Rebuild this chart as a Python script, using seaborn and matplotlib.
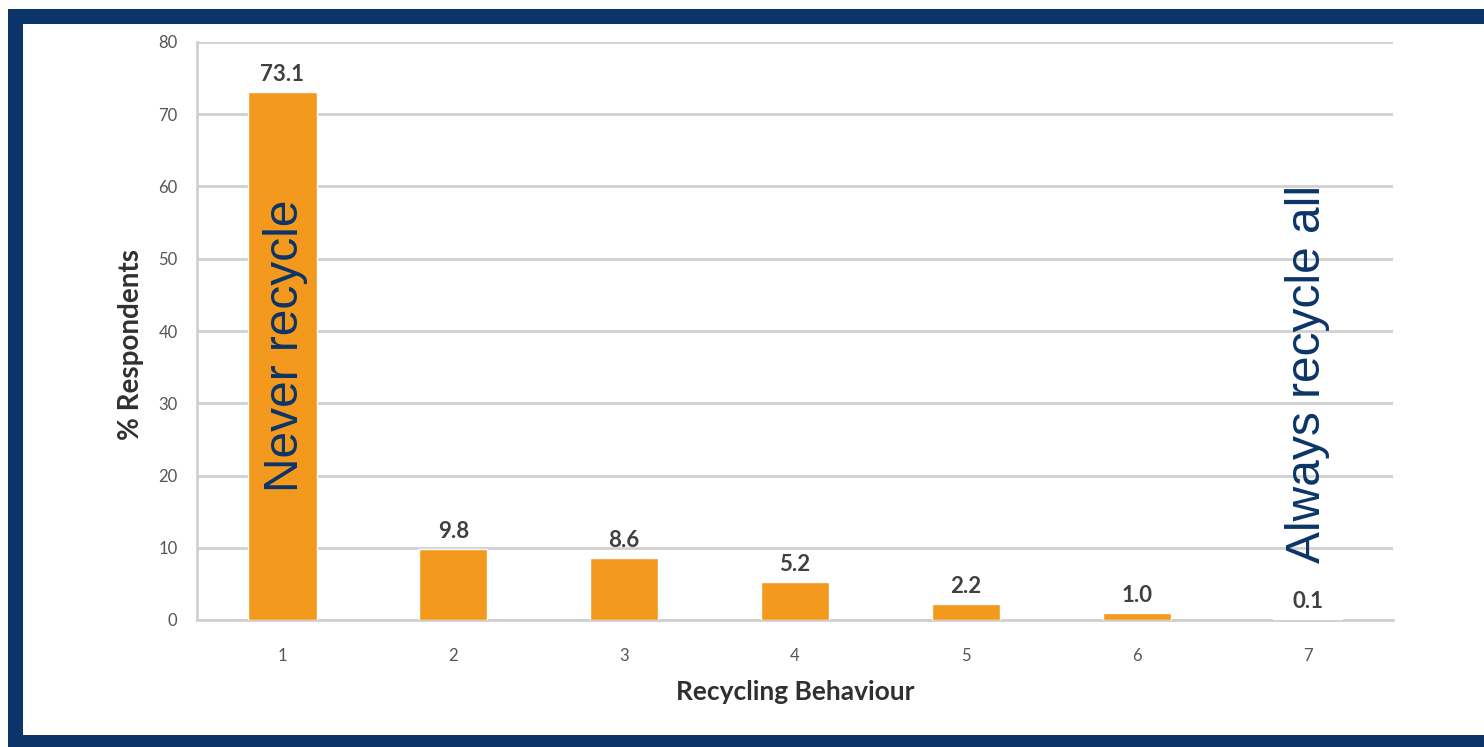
import matplotlib
matplotlib.use("Agg")
import matplotlib.pyplot as plt
import matplotlib.patches as mpatches
import seaborn as sns
import pandas as pd

# Survey results: share of respondents at each recycling-behaviour level
behaviour = ["1", "2", "3", "4", "5", "6", "7"]
respondents_pct = [73.1, 9.8, 8.6, 5.2, 2.2, 1.0, 0.1]
y_ticks = [0, 10, 20, 30, 40, 50, 60, 70, 80]
end_labels = ["Never recycle", "Always recycle all"]

BAR = "#F39A1E"
NAVY = "#0B3468"
GRID = "#D0D0D0"
TEXT = "#404040"

sns.set_theme(style="white")
plt.rcParams["font.family"] = ["Lato", "DejaVu Sans"]

df = pd.DataFrame({"behaviour": behaviour, "pct": respondents_pct})

fig = plt.figure(figsize=(14.84, 7.47), dpi=100)
W, H = 1484, 747

# Navy frame around the chart panel
frame = [
    (8, 9, W - 8, 15),      # top band
    (8, 9, 15, H - 9),      # left band
    (8, 735, W - 8, 12),    # bottom band
]
for x, y, w, h in frame:
    fig.add_artist(mpatches.Rectangle((x / W, 1 - (y + h) / H), w / W, h / H,
                                      transform=fig.transFigure,
                                      color=NAVY, lw=0, zorder=0))

ax = fig.add_axes([197 / W, 1 - 620 / H, (1393 - 197) / W, (620 - 42) / H])
sns.barplot(data=df, x="behaviour", y="pct", color=BAR, saturation=1,
            width=0.4, ax=ax, zorder=3)

ax.set_ylim(0, 80)
ax.set_xlim(-0.5, len(behaviour) - 0.5)
ax.set_yticks(y_ticks)
ax.set_yticklabels([str(t) for t in y_ticks])
ax.yaxis.grid(True, color=GRID, lw=2)
ax.set_axisbelow(True)
for side in ["top", "right"]:
    ax.spines[side].set_visible(False)
ax.spines["left"].set_color(GRID)
ax.spines["left"].set_linewidth(2)
ax.spines["bottom"].set_color(GRID)
ax.spines["bottom"].set_linewidth(2)
ax.tick_params(axis="y", length=8, width=2, color=GRID, labelsize=12,
               labelcolor="#555555", pad=6)
ax.tick_params(axis="x", length=0, labelsize=12, labelcolor="#555555", pad=20)

ax.set_xlabel("Recycling Behaviour", fontsize=19, fontweight="bold",
              color="#303030")
ax.set_ylabel("% Respondents", fontsize=20, fontweight="bold",
              color="#303030")
ax.xaxis.set_label_coords(0.5, -0.103)
ax.yaxis.set_label_coords(-0.044, 0.476)

# Value labels above each bar
for i, v in enumerate(respondents_pct):
    ax.annotate(f"{v:.1f}", (i, v), xytext=(0, 5), textcoords="offset points",
                ha="center", va="bottom", fontsize=16, fontweight="bold",
                color=TEXT, zorder=5)

# Scale end-point descriptions
ax.text(0.02, 38, end_labels[0], rotation=90, ha="center", va="center",
        fontsize=34.5, color=NAVY, family=["Liberation Sans", "DejaVu Sans"],
        zorder=6)
ax.text(6.0, 34, end_labels[1], rotation=90, ha="center", va="center",
        fontsize=34.5, color=NAVY, family=["Liberation Sans", "DejaVu Sans"],
        zorder=6)

fig.savefig("out.png", dpi=100, facecolor="white")
